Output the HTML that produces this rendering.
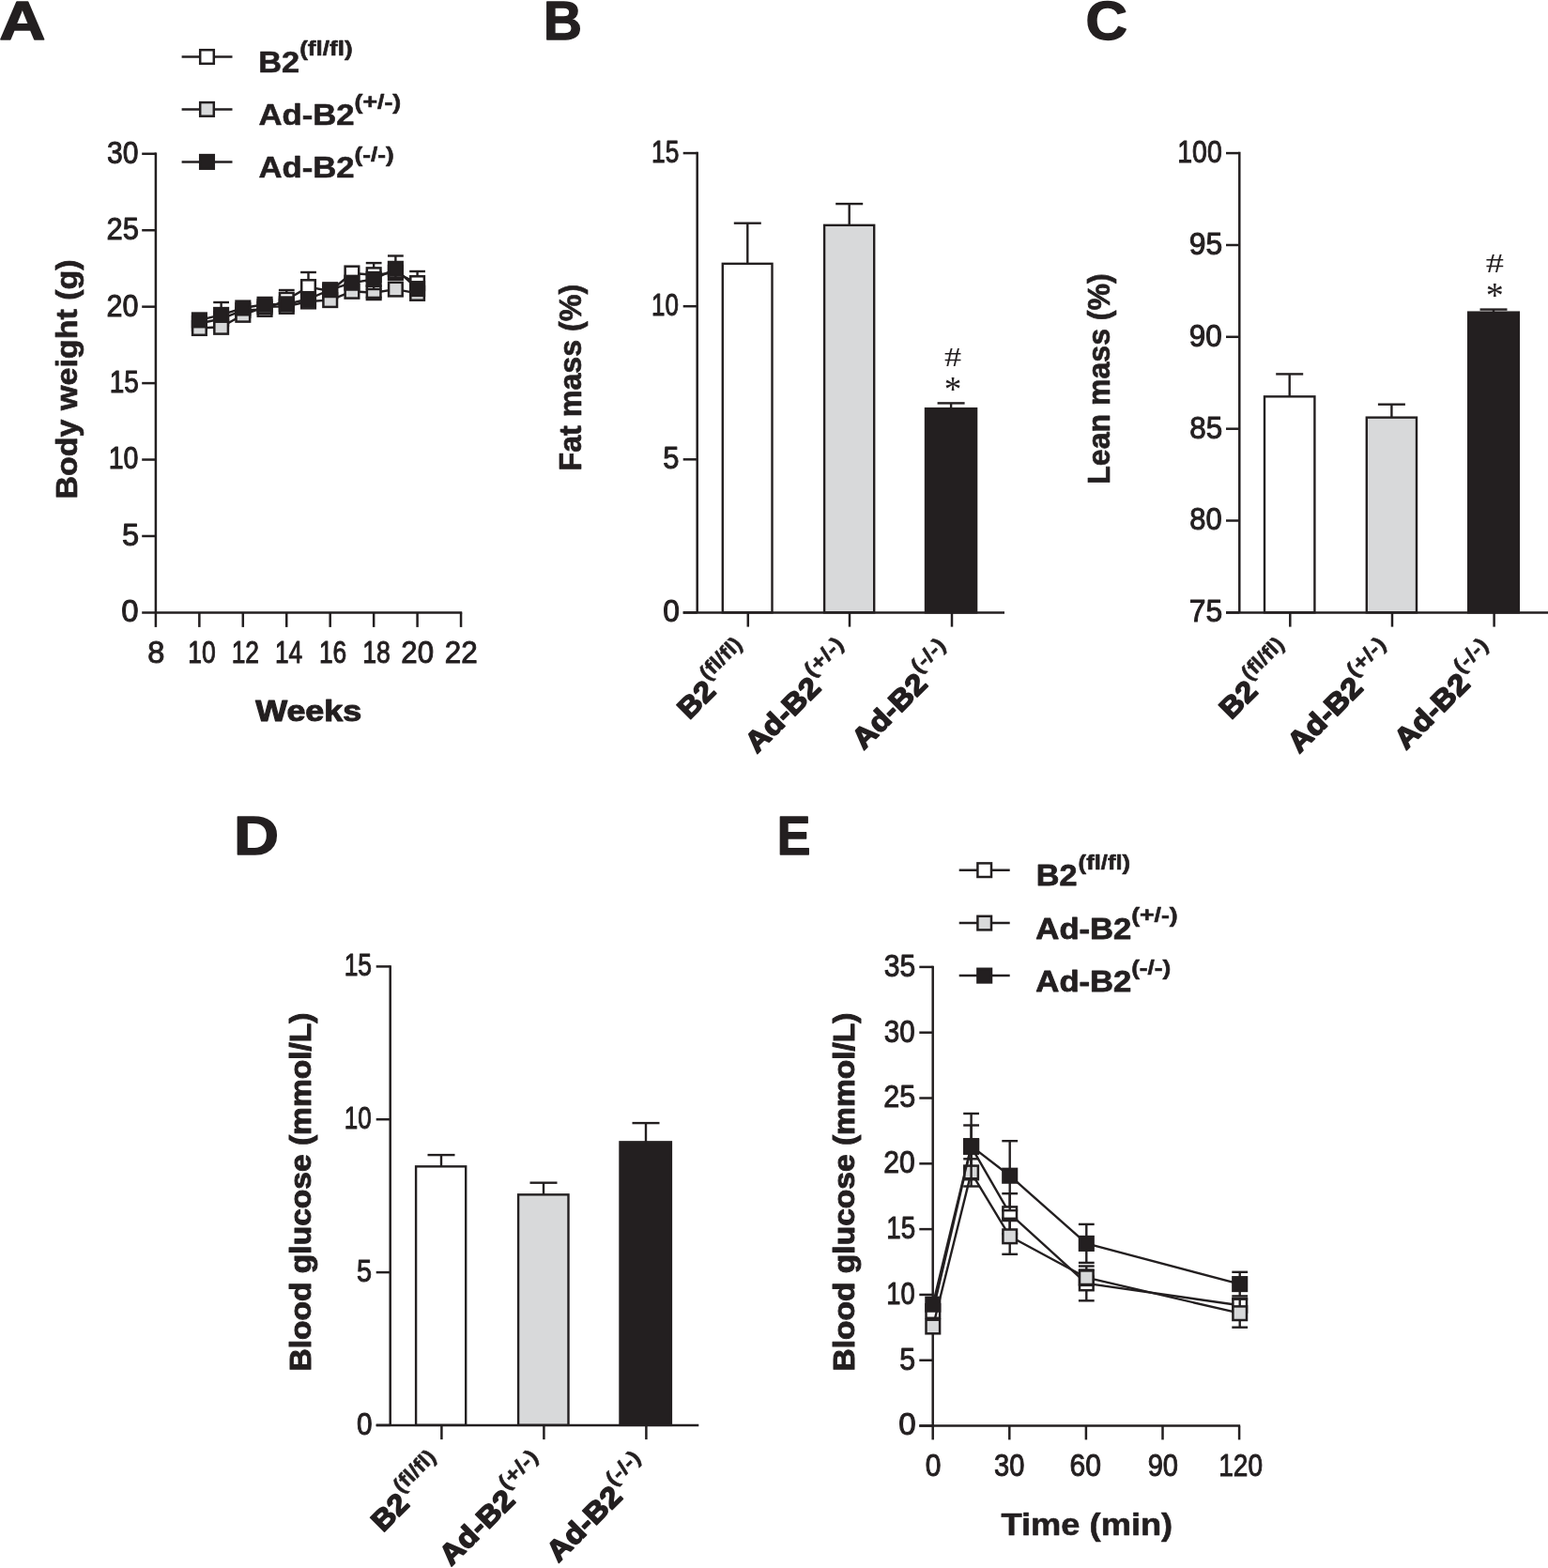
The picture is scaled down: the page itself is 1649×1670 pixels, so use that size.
<!DOCTYPE html>
<html lang="en">
<head>
<meta charset="utf-8">
<title>Figure: body composition and glucose tolerance</title>
<style>
html,body{margin:0;padding:0;background:#ffffff;}
body{width:1649px;height:1670px;overflow:hidden;}
svg{display:block;}
svg text{fill:#231f20;}
</style>
</head>
<body>
<svg width="1649" height="1670" viewBox="0 0 1649 1670" role="img" aria-label="Five-panel figure: body weight, fat mass, lean mass, blood glucose and glucose tolerance">
<rect x="0" y="0" width="1649" height="1670" fill="#ffffff"/>
<text x="-0.86" y="42.1" font-family='"Liberation Sans", sans-serif' font-size="57" font-weight="bold" textLength="49.16" lengthAdjust="spacingAndGlyphs" stroke="#231f20" stroke-width="1.4" stroke-linejoin="round">A</text>
<text x="579.06" y="42" font-family='"Liberation Sans", sans-serif' font-size="57" font-weight="bold" textLength="40.9" lengthAdjust="spacingAndGlyphs" stroke="#231f20" stroke-width="1.4" stroke-linejoin="round">B</text>
<text x="1156.58" y="42" font-family='"Liberation Sans", sans-serif' font-size="57" font-weight="bold" textLength="44.39" lengthAdjust="spacingAndGlyphs" stroke="#231f20" stroke-width="1.4" stroke-linejoin="round">C</text>
<text x="249.04" y="910.3" font-family='"Liberation Sans", sans-serif' font-size="57" font-weight="bold" textLength="48.07" lengthAdjust="spacingAndGlyphs" stroke="#231f20" stroke-width="1.4" stroke-linejoin="round">D</text>
<text x="827.86" y="910.3" font-family='"Liberation Sans", sans-serif' font-size="57" font-weight="bold" textLength="35.65" lengthAdjust="spacingAndGlyphs" stroke="#231f20" stroke-width="1.4" stroke-linejoin="round">E</text>
<line x1="165.9" y1="162.55" x2="165.9" y2="652.4" stroke="#231f20" stroke-width="2.5" stroke-linecap="butt"/>
<line x1="151.2" y1="652.4" x2="492.2" y2="652.4" stroke="#231f20" stroke-width="2.5" stroke-linecap="butt"/>
<line x1="151.2" y1="163.8" x2="165.9" y2="163.8" stroke="#231f20" stroke-width="2.5" stroke-linecap="butt"/>
<text x="114.06" y="173.7" font-family='"Liberation Sans", sans-serif' font-size="33" font-weight="normal" textLength="33.49" lengthAdjust="spacingAndGlyphs" stroke="#231f20" stroke-width="1" stroke-linejoin="round">30</text>
<line x1="151.2" y1="245.23" x2="165.9" y2="245.23" stroke="#231f20" stroke-width="2.5" stroke-linecap="butt"/>
<text x="113.55" y="255.13" font-family='"Liberation Sans", sans-serif' font-size="33" font-weight="normal" textLength="34.51" lengthAdjust="spacingAndGlyphs" stroke="#231f20" stroke-width="1" stroke-linejoin="round">25</text>
<line x1="151.2" y1="326.67" x2="165.9" y2="326.67" stroke="#231f20" stroke-width="2.5" stroke-linecap="butt"/>
<text x="113.57" y="336.57" font-family='"Liberation Sans", sans-serif' font-size="33" font-weight="normal" textLength="33.99" lengthAdjust="spacingAndGlyphs" stroke="#231f20" stroke-width="1" stroke-linejoin="round">20</text>
<line x1="151.2" y1="408.1" x2="165.9" y2="408.1" stroke="#231f20" stroke-width="2.5" stroke-linecap="butt"/>
<text x="116.75" y="418" font-family='"Liberation Sans", sans-serif' font-size="33" font-weight="normal" textLength="31.19" lengthAdjust="spacingAndGlyphs" stroke="#231f20" stroke-width="1" stroke-linejoin="round">15</text>
<line x1="151.2" y1="489.53" x2="165.9" y2="489.53" stroke="#231f20" stroke-width="2.5" stroke-linecap="butt"/>
<text x="115.71" y="499.43" font-family='"Liberation Sans", sans-serif' font-size="33" font-weight="normal" textLength="31.8" lengthAdjust="spacingAndGlyphs" stroke="#231f20" stroke-width="1" stroke-linejoin="round">10</text>
<line x1="151.2" y1="570.97" x2="165.9" y2="570.97" stroke="#231f20" stroke-width="2.5" stroke-linecap="butt"/>
<text x="129.98" y="580.87" font-family='"Liberation Sans", sans-serif' font-size="33" font-weight="normal" textLength="18.14" lengthAdjust="spacingAndGlyphs" stroke="#231f20" stroke-width="1" stroke-linejoin="round">5</text>
<text x="129.27" y="662.3" font-family='"Liberation Sans", sans-serif' font-size="33" font-weight="normal" textLength="18.35" lengthAdjust="spacingAndGlyphs" stroke="#231f20" stroke-width="1" stroke-linejoin="round">0</text>
<line x1="165.9" y1="652.4" x2="165.9" y2="667.9" stroke="#231f20" stroke-width="2.5" stroke-linecap="butt"/>
<text x="157.18" y="706.2" font-family='"Liberation Sans", sans-serif' font-size="33" font-weight="normal" textLength="18.14" lengthAdjust="spacingAndGlyphs" stroke="#231f20" stroke-width="1" stroke-linejoin="round">8</text>
<line x1="212.35" y1="652.4" x2="212.35" y2="667.9" stroke="#231f20" stroke-width="2.5" stroke-linecap="butt"/>
<text x="200.24" y="706.2" font-family='"Liberation Sans", sans-serif' font-size="33" font-weight="normal" textLength="29.52" lengthAdjust="spacingAndGlyphs" stroke="#231f20" stroke-width="1" stroke-linejoin="round">10</text>
<line x1="258.8" y1="652.4" x2="258.8" y2="667.9" stroke="#231f20" stroke-width="2.5" stroke-linecap="butt"/>
<text x="246.65" y="706.2" font-family='"Liberation Sans", sans-serif' font-size="33" font-weight="normal" textLength="29.43" lengthAdjust="spacingAndGlyphs" stroke="#231f20" stroke-width="1" stroke-linejoin="round">12</text>
<line x1="305.25" y1="652.4" x2="305.25" y2="667.9" stroke="#231f20" stroke-width="2.5" stroke-linecap="butt"/>
<text x="292.95" y="706.2" font-family='"Liberation Sans", sans-serif' font-size="33" font-weight="normal" textLength="29.3" lengthAdjust="spacingAndGlyphs" stroke="#231f20" stroke-width="1" stroke-linejoin="round">14</text>
<line x1="351.7" y1="652.4" x2="351.7" y2="667.9" stroke="#231f20" stroke-width="2.5" stroke-linecap="butt"/>
<text x="339.95" y="706.2" font-family='"Liberation Sans", sans-serif' font-size="33" font-weight="normal" textLength="29.32" lengthAdjust="spacingAndGlyphs" stroke="#231f20" stroke-width="1" stroke-linejoin="round">16</text>
<line x1="398.15" y1="652.4" x2="398.15" y2="667.9" stroke="#231f20" stroke-width="2.5" stroke-linecap="butt"/>
<text x="386.23" y="706.2" font-family='"Liberation Sans", sans-serif' font-size="33" font-weight="normal" textLength="29.65" lengthAdjust="spacingAndGlyphs" stroke="#231f20" stroke-width="1" stroke-linejoin="round">18</text>
<line x1="444.6" y1="652.4" x2="444.6" y2="667.9" stroke="#231f20" stroke-width="2.5" stroke-linecap="butt"/>
<text x="427.34" y="706.2" font-family='"Liberation Sans", sans-serif' font-size="33" font-weight="normal" textLength="34.74" lengthAdjust="spacingAndGlyphs" stroke="#231f20" stroke-width="1" stroke-linejoin="round">20</text>
<line x1="491.05" y1="652.4" x2="491.05" y2="667.9" stroke="#231f20" stroke-width="2.5" stroke-linecap="butt"/>
<text x="473.73" y="706.2" font-family='"Liberation Sans", sans-serif' font-size="33" font-weight="normal" textLength="34.95" lengthAdjust="spacingAndGlyphs" stroke="#231f20" stroke-width="1" stroke-linejoin="round">22</text>
<text x="272.15" y="768.35" font-family='"Liberation Sans", sans-serif' font-size="32" font-weight="bold" textLength="113.16" lengthAdjust="spacingAndGlyphs" stroke="#231f20" stroke-width="1.1" stroke-linejoin="round">Weeks</text>
<text x="-2.28" y="-0.35" font-family='"Liberation Sans", sans-serif' font-size="32" font-weight="bold" textLength="255.26" lengthAdjust="spacingAndGlyphs" stroke="#231f20" stroke-width="0.7" stroke-linejoin="round" transform="translate(82.3,529.3) rotate(-90)">Body weight (g)</text>
<line x1="193.6" y1="60.5" x2="247.5" y2="60.5" stroke="#231f20" stroke-width="2.5" stroke-linecap="butt"/>
<rect x="213.2" y="53.2" width="14.6" height="14.6" fill="#ffffff" stroke="#231f20" stroke-width="2.5"/>
<line x1="193.6" y1="116.4" x2="247.5" y2="116.4" stroke="#231f20" stroke-width="2.5" stroke-linecap="butt"/>
<rect x="213.2" y="109.1" width="14.6" height="14.6" fill="#d8d9da" stroke="#231f20" stroke-width="2.5"/>
<line x1="193.6" y1="172.4" x2="247.5" y2="172.4" stroke="#231f20" stroke-width="2.5" stroke-linecap="butt"/>
<rect x="213.2" y="165.1" width="14.6" height="14.6" fill="#231f20" stroke="#231f20" stroke-width="2.5"/>
<text x="275.15" y="76.9" font-family='"Liberation Sans", sans-serif' font-size="32" font-weight="bold" textLength="43.9" lengthAdjust="spacingAndGlyphs" stroke="#231f20" stroke-width="0.6" stroke-linejoin="round">B2</text>
<text x="319.18" y="59.1" font-family='"Liberation Sans", sans-serif' font-size="21.5" font-weight="bold" textLength="56.46" lengthAdjust="spacingAndGlyphs" stroke="#231f20" stroke-width="0.6" stroke-linejoin="round">(fl/fl)</text>
<text x="275.46" y="133.4" font-family='"Liberation Sans", sans-serif' font-size="32" font-weight="bold" textLength="102.21" lengthAdjust="spacingAndGlyphs" stroke="#231f20" stroke-width="0.6" stroke-linejoin="round">Ad-B2</text>
<text x="377.55" y="115.6" font-family='"Liberation Sans", sans-serif' font-size="21.5" font-weight="bold" textLength="49.61" lengthAdjust="spacingAndGlyphs" stroke="#231f20" stroke-width="0.6" stroke-linejoin="round">(+/-)</text>
<text x="275.46" y="189.4" font-family='"Liberation Sans", sans-serif' font-size="32" font-weight="bold" textLength="102.21" lengthAdjust="spacingAndGlyphs" stroke="#231f20" stroke-width="0.6" stroke-linejoin="round">Ad-B2</text>
<text x="377.57" y="171.6" font-family='"Liberation Sans", sans-serif' font-size="21.5" font-weight="bold" textLength="42.17" lengthAdjust="spacingAndGlyphs" stroke="#231f20" stroke-width="0.6" stroke-linejoin="round">(-/-)</text>
<line x1="305.28" y1="319.3" x2="305.28" y2="309" stroke="#231f20" stroke-width="2.4" stroke-linecap="butt"/>
<line x1="296.88" y1="309" x2="313.68" y2="309" stroke="#231f20" stroke-width="2.4" stroke-linecap="butt"/>
<line x1="328.5" y1="305.6" x2="328.5" y2="290" stroke="#231f20" stroke-width="2.4" stroke-linecap="butt"/>
<line x1="320.1" y1="290" x2="336.9" y2="290" stroke="#231f20" stroke-width="2.4" stroke-linecap="butt"/>
<line x1="398.16" y1="292.7" x2="398.16" y2="280.1" stroke="#231f20" stroke-width="2.4" stroke-linecap="butt"/>
<line x1="389.76" y1="280.1" x2="406.56" y2="280.1" stroke="#231f20" stroke-width="2.4" stroke-linecap="butt"/>
<line x1="444.6" y1="301.6" x2="444.6" y2="289" stroke="#231f20" stroke-width="2.4" stroke-linecap="butt"/>
<line x1="436.2" y1="289" x2="453" y2="289" stroke="#231f20" stroke-width="2.4" stroke-linecap="butt"/>
<polyline points="212.4,344.5 235.62,339.5 258.84,330.5 282.06,329.4 305.28,319.3 328.5,305.6 351.72,310 374.94,291 398.16,292.7 421.38,290.4 444.6,301.6" fill="none" stroke="#231f20" stroke-width="2.4" stroke-linejoin="round"/>
<rect x="205.1" y="337.2" width="14.6" height="14.6" fill="#ffffff" stroke="#231f20" stroke-width="2.5"/>
<rect x="228.32" y="332.2" width="14.6" height="14.6" fill="#ffffff" stroke="#231f20" stroke-width="2.5"/>
<rect x="251.54" y="323.2" width="14.6" height="14.6" fill="#ffffff" stroke="#231f20" stroke-width="2.5"/>
<rect x="274.76" y="322.1" width="14.6" height="14.6" fill="#ffffff" stroke="#231f20" stroke-width="2.5"/>
<rect x="297.98" y="312" width="14.6" height="14.6" fill="#ffffff" stroke="#231f20" stroke-width="2.5"/>
<rect x="321.2" y="298.3" width="14.6" height="14.6" fill="#ffffff" stroke="#231f20" stroke-width="2.5"/>
<rect x="344.42" y="302.7" width="14.6" height="14.6" fill="#ffffff" stroke="#231f20" stroke-width="2.5"/>
<rect x="367.64" y="283.7" width="14.6" height="14.6" fill="#ffffff" stroke="#231f20" stroke-width="2.5"/>
<rect x="390.86" y="285.4" width="14.6" height="14.6" fill="#ffffff" stroke="#231f20" stroke-width="2.5"/>
<rect x="414.08" y="283.1" width="14.6" height="14.6" fill="#ffffff" stroke="#231f20" stroke-width="2.5"/>
<rect x="437.3" y="294.3" width="14.6" height="14.6" fill="#ffffff" stroke="#231f20" stroke-width="2.5"/>
<polyline points="212.4,349.5 235.62,348.3 258.84,335.3 282.06,326.8 305.28,326.4 328.5,321 351.72,319.6 374.94,310.3 398.16,311.7 421.38,308.1 444.6,312.4" fill="none" stroke="#231f20" stroke-width="2.4" stroke-linejoin="round"/>
<rect x="205.1" y="342.2" width="14.6" height="14.6" fill="#d8d9da" stroke="#231f20" stroke-width="2.5"/>
<rect x="228.32" y="341" width="14.6" height="14.6" fill="#d8d9da" stroke="#231f20" stroke-width="2.5"/>
<rect x="251.54" y="328" width="14.6" height="14.6" fill="#d8d9da" stroke="#231f20" stroke-width="2.5"/>
<rect x="274.76" y="319.5" width="14.6" height="14.6" fill="#d8d9da" stroke="#231f20" stroke-width="2.5"/>
<rect x="297.98" y="319.1" width="14.6" height="14.6" fill="#d8d9da" stroke="#231f20" stroke-width="2.5"/>
<rect x="321.2" y="313.7" width="14.6" height="14.6" fill="#d8d9da" stroke="#231f20" stroke-width="2.5"/>
<rect x="344.42" y="312.3" width="14.6" height="14.6" fill="#d8d9da" stroke="#231f20" stroke-width="2.5"/>
<rect x="367.64" y="303" width="14.6" height="14.6" fill="#d8d9da" stroke="#231f20" stroke-width="2.5"/>
<rect x="390.86" y="304.4" width="14.6" height="14.6" fill="#d8d9da" stroke="#231f20" stroke-width="2.5"/>
<rect x="414.08" y="300.8" width="14.6" height="14.6" fill="#d8d9da" stroke="#231f20" stroke-width="2.5"/>
<rect x="437.3" y="305.1" width="14.6" height="14.6" fill="#d8d9da" stroke="#231f20" stroke-width="2.5"/>
<line x1="389.76" y1="316.9" x2="406.56" y2="316.9" stroke="#231f20" stroke-width="2.4" stroke-linecap="butt"/>
<line x1="235.62" y1="335.4" x2="235.62" y2="322" stroke="#231f20" stroke-width="2.4" stroke-linecap="butt"/>
<line x1="227.22" y1="322" x2="244.02" y2="322" stroke="#231f20" stroke-width="2.4" stroke-linecap="butt"/>
<line x1="421.38" y1="286.3" x2="421.38" y2="272.5" stroke="#231f20" stroke-width="2.4" stroke-linecap="butt"/>
<line x1="412.98" y1="272.5" x2="429.78" y2="272.5" stroke="#231f20" stroke-width="2.4" stroke-linecap="butt"/>
<line x1="421.38" y1="286.3" x2="421.38" y2="296" stroke="#231f20" stroke-width="2.4" stroke-linecap="butt"/>
<line x1="412.98" y1="296" x2="429.78" y2="296" stroke="#231f20" stroke-width="2.4" stroke-linecap="butt"/>
<line x1="398.16" y1="297.4" x2="398.16" y2="308" stroke="#231f20" stroke-width="2.4" stroke-linecap="butt"/>
<line x1="389.76" y1="308" x2="406.56" y2="308" stroke="#231f20" stroke-width="2.4" stroke-linecap="butt"/>
<polyline points="212.4,340.9 235.62,335.4 258.84,328 282.06,324.3 305.28,323.9 328.5,318.5 351.72,308.7 374.94,301.2 398.16,297.4 421.38,286.3 444.6,307.6" fill="none" stroke="#231f20" stroke-width="2.4" stroke-linejoin="round"/>
<rect x="205.1" y="333.6" width="14.6" height="14.6" fill="#231f20" stroke="#231f20" stroke-width="2.5"/>
<rect x="228.32" y="328.1" width="14.6" height="14.6" fill="#231f20" stroke="#231f20" stroke-width="2.5"/>
<rect x="251.54" y="320.7" width="14.6" height="14.6" fill="#231f20" stroke="#231f20" stroke-width="2.5"/>
<rect x="274.76" y="317" width="14.6" height="14.6" fill="#231f20" stroke="#231f20" stroke-width="2.5"/>
<rect x="297.98" y="316.6" width="14.6" height="14.6" fill="#231f20" stroke="#231f20" stroke-width="2.5"/>
<rect x="321.2" y="311.2" width="14.6" height="14.6" fill="#231f20" stroke="#231f20" stroke-width="2.5"/>
<rect x="344.42" y="301.4" width="14.6" height="14.6" fill="#231f20" stroke="#231f20" stroke-width="2.5"/>
<rect x="367.64" y="293.9" width="14.6" height="14.6" fill="#231f20" stroke="#231f20" stroke-width="2.5"/>
<rect x="390.86" y="290.1" width="14.6" height="14.6" fill="#231f20" stroke="#231f20" stroke-width="2.5"/>
<rect x="414.08" y="279" width="14.6" height="14.6" fill="#231f20" stroke="#231f20" stroke-width="2.5"/>
<rect x="437.3" y="300.3" width="14.6" height="14.6" fill="#231f20" stroke="#231f20" stroke-width="2.5"/>
<line x1="742.7" y1="161.85" x2="742.7" y2="652.4" stroke="#231f20" stroke-width="2.5" stroke-linecap="butt"/>
<line x1="796.3" y1="280.9" x2="796.3" y2="237.7" stroke="#231f20" stroke-width="2.4" stroke-linecap="butt"/>
<line x1="781.8" y1="237.7" x2="810.8" y2="237.7" stroke="#231f20" stroke-width="2.4" stroke-linecap="butt"/>
<rect x="769.8" y="280.85" width="52.7" height="371.5" fill="#ffffff" stroke="#231f20" stroke-width="2.4"/>
<line x1="796.8" y1="652.4" x2="796.8" y2="667.6" stroke="#231f20" stroke-width="2.5" stroke-linecap="butt"/>
<line x1="904.7" y1="239.9" x2="904.7" y2="217.1" stroke="#231f20" stroke-width="2.4" stroke-linecap="butt"/>
<line x1="890.2" y1="217.1" x2="919.2" y2="217.1" stroke="#231f20" stroke-width="2.4" stroke-linecap="butt"/>
<rect x="878.1" y="239.85" width="53.1" height="412.5" fill="#d8d9da" stroke="#231f20" stroke-width="2.4"/>
<line x1="905" y1="652.4" x2="905" y2="667.6" stroke="#231f20" stroke-width="2.5" stroke-linecap="butt"/>
<line x1="1013.1" y1="435.2" x2="1013.1" y2="429.4" stroke="#231f20" stroke-width="2.4" stroke-linecap="butt"/>
<line x1="998.6" y1="429.4" x2="1027.6" y2="429.4" stroke="#231f20" stroke-width="2.4" stroke-linecap="butt"/>
<rect x="986" y="435.15" width="54.1" height="217.2" fill="#231f20" stroke="#231f20" stroke-width="2.4"/>
<line x1="1014" y1="652.4" x2="1014" y2="667.6" stroke="#231f20" stroke-width="2.5" stroke-linecap="butt"/>
<line x1="727.7" y1="652.4" x2="1070" y2="652.4" stroke="#231f20" stroke-width="2.5" stroke-linecap="butt"/>
<line x1="727.7" y1="163.1" x2="742.7" y2="163.1" stroke="#231f20" stroke-width="2.5" stroke-linecap="butt"/>
<text x="694.05" y="173" font-family='"Liberation Sans", sans-serif' font-size="33" font-weight="normal" textLength="29.32" lengthAdjust="spacingAndGlyphs" stroke="#231f20" stroke-width="1" stroke-linejoin="round">15</text>
<line x1="727.7" y1="326.2" x2="742.7" y2="326.2" stroke="#231f20" stroke-width="2.5" stroke-linecap="butt"/>
<text x="694.08" y="336.1" font-family='"Liberation Sans", sans-serif' font-size="33" font-weight="normal" textLength="28.87" lengthAdjust="spacingAndGlyphs" stroke="#231f20" stroke-width="1" stroke-linejoin="round">10</text>
<line x1="727.7" y1="489.3" x2="742.7" y2="489.3" stroke="#231f20" stroke-width="2.5" stroke-linecap="butt"/>
<text x="706.33" y="499.2" font-family='"Liberation Sans", sans-serif' font-size="33" font-weight="normal" textLength="17.22" lengthAdjust="spacingAndGlyphs" stroke="#231f20" stroke-width="1" stroke-linejoin="round">5</text>
<line x1="727.7" y1="652.4" x2="742.7" y2="652.4" stroke="#231f20" stroke-width="2.5" stroke-linecap="butt"/>
<text x="706.31" y="662.3" font-family='"Liberation Sans", sans-serif' font-size="33" font-weight="normal" textLength="17.69" lengthAdjust="spacingAndGlyphs" stroke="#231f20" stroke-width="1" stroke-linejoin="round">0</text>
<text x="-2.16" y="-0.35" font-family='"Liberation Sans", sans-serif' font-size="33" font-weight="bold" textLength="198.78" lengthAdjust="spacingAndGlyphs" stroke="#231f20" stroke-width="0.7" stroke-linejoin="round" transform="translate(619.65,499.4) rotate(-90)">Fat mass (%)</text>
<text x="-1.74" y="-0.8" font-family='"Liberation Sans", sans-serif' font-size="30.8" font-weight="bold" textLength="41.75" lengthAdjust="spacingAndGlyphs" stroke="#231f20" stroke-width="1.6" stroke-linejoin="round" transform="translate(736,766.6) rotate(-45)">B2</text>
<text x="41.58" y="-16.55" font-family='"Liberation Sans", sans-serif' font-size="22.3" font-weight="bold" textLength="54.07" lengthAdjust="spacingAndGlyphs" stroke="#231f20" stroke-width="0.5" stroke-linejoin="round" transform="translate(736,766.6) rotate(-45)">(fl/fl)</text>
<text x="-0.22" y="-0.8" font-family='"Liberation Sans", sans-serif' font-size="30.8" font-weight="bold" textLength="98.25" lengthAdjust="spacingAndGlyphs" stroke="#231f20" stroke-width="1.6" stroke-linejoin="round" transform="translate(807,803.7) rotate(-45)">Ad-B2</text>
<text x="99.01" y="-16.55" font-family='"Liberation Sans", sans-serif' font-size="22.3" font-weight="bold" textLength="49.19" lengthAdjust="spacingAndGlyphs" stroke="#231f20" stroke-width="0.5" stroke-linejoin="round" transform="translate(807,803.7) rotate(-45)">(+/-)</text>
<text x="-0.22" y="-0.8" font-family='"Liberation Sans", sans-serif' font-size="30.8" font-weight="bold" textLength="98.25" lengthAdjust="spacingAndGlyphs" stroke="#231f20" stroke-width="1.6" stroke-linejoin="round" transform="translate(920.6,799.8) rotate(-45)">Ad-B2</text>
<text x="99.02" y="-16.55" font-family='"Liberation Sans", sans-serif' font-size="22.3" font-weight="bold" textLength="42.17" lengthAdjust="spacingAndGlyphs" stroke="#231f20" stroke-width="0.5" stroke-linejoin="round" transform="translate(920.6,799.8) rotate(-45)">(-/-)</text>
<line x1="1320.3" y1="161.85" x2="1320.3" y2="652.4" stroke="#231f20" stroke-width="2.5" stroke-linecap="butt"/>
<line x1="1373.7" y1="422.4" x2="1373.7" y2="398.4" stroke="#231f20" stroke-width="2.4" stroke-linecap="butt"/>
<line x1="1359.2" y1="398.4" x2="1388.2" y2="398.4" stroke="#231f20" stroke-width="2.4" stroke-linecap="butt"/>
<rect x="1347" y="422.35" width="53.4" height="230" fill="#ffffff" stroke="#231f20" stroke-width="2.4"/>
<line x1="1374.3" y1="652.4" x2="1374.3" y2="667.6" stroke="#231f20" stroke-width="2.5" stroke-linecap="butt"/>
<line x1="1482.4" y1="444.7" x2="1482.4" y2="430.7" stroke="#231f20" stroke-width="2.4" stroke-linecap="butt"/>
<line x1="1467.9" y1="430.7" x2="1496.9" y2="430.7" stroke="#231f20" stroke-width="2.4" stroke-linecap="butt"/>
<rect x="1455.8" y="444.65" width="53.2" height="207.7" fill="#d8d9da" stroke="#231f20" stroke-width="2.4"/>
<line x1="1483" y1="652.4" x2="1483" y2="667.6" stroke="#231f20" stroke-width="2.5" stroke-linecap="butt"/>
<line x1="1591" y1="332.7" x2="1591" y2="329.6" stroke="#231f20" stroke-width="2.4" stroke-linecap="butt"/>
<line x1="1576.5" y1="329.6" x2="1605.5" y2="329.6" stroke="#231f20" stroke-width="2.4" stroke-linecap="butt"/>
<rect x="1564.2" y="332.65" width="53.6" height="319.7" fill="#231f20" stroke="#231f20" stroke-width="2.4"/>
<line x1="1591.6" y1="652.4" x2="1591.6" y2="667.6" stroke="#231f20" stroke-width="2.5" stroke-linecap="butt"/>
<line x1="1306" y1="652.4" x2="1649" y2="652.4" stroke="#231f20" stroke-width="2.5" stroke-linecap="butt"/>
<line x1="1306" y1="163.1" x2="1320.3" y2="163.1" stroke="#231f20" stroke-width="2.5" stroke-linecap="butt"/>
<text x="1254.22" y="173" font-family='"Liberation Sans", sans-serif' font-size="33" font-weight="normal" textLength="47.49" lengthAdjust="spacingAndGlyphs" stroke="#231f20" stroke-width="1" stroke-linejoin="round">100</text>
<line x1="1306" y1="261" x2="1320.3" y2="261" stroke="#231f20" stroke-width="2.5" stroke-linecap="butt"/>
<text x="1266.8" y="270.9" font-family='"Liberation Sans", sans-serif' font-size="33" font-weight="normal" textLength="35.49" lengthAdjust="spacingAndGlyphs" stroke="#231f20" stroke-width="1" stroke-linejoin="round">95</text>
<line x1="1306" y1="358.8" x2="1320.3" y2="358.8" stroke="#231f20" stroke-width="2.5" stroke-linecap="butt"/>
<text x="1266.83" y="368.7" font-family='"Liberation Sans", sans-serif' font-size="33" font-weight="normal" textLength="34.96" lengthAdjust="spacingAndGlyphs" stroke="#231f20" stroke-width="1" stroke-linejoin="round">90</text>
<line x1="1306" y1="456.7" x2="1320.3" y2="456.7" stroke="#231f20" stroke-width="2.5" stroke-linecap="butt"/>
<text x="1267.32" y="466.6" font-family='"Liberation Sans", sans-serif' font-size="33" font-weight="normal" textLength="34.96" lengthAdjust="spacingAndGlyphs" stroke="#231f20" stroke-width="1" stroke-linejoin="round">85</text>
<line x1="1306" y1="554.5" x2="1320.3" y2="554.5" stroke="#231f20" stroke-width="2.5" stroke-linecap="butt"/>
<text x="1267.33" y="564.4" font-family='"Liberation Sans", sans-serif' font-size="33" font-weight="normal" textLength="34.44" lengthAdjust="spacingAndGlyphs" stroke="#231f20" stroke-width="1" stroke-linejoin="round">80</text>
<line x1="1306" y1="652.4" x2="1320.3" y2="652.4" stroke="#231f20" stroke-width="2.5" stroke-linecap="butt"/>
<text x="1266.8" y="662.3" font-family='"Liberation Sans", sans-serif' font-size="33" font-weight="normal" textLength="35.49" lengthAdjust="spacingAndGlyphs" stroke="#231f20" stroke-width="1" stroke-linejoin="round">75</text>
<text x="-2.15" y="-0.35" font-family='"Liberation Sans", sans-serif' font-size="33" font-weight="bold" textLength="224.46" lengthAdjust="spacingAndGlyphs" stroke="#231f20" stroke-width="0.7" stroke-linejoin="round" transform="translate(1182,513.6) rotate(-90)">Lean mass (%)</text>
<text x="-1.74" y="-0.8" font-family='"Liberation Sans", sans-serif' font-size="30.8" font-weight="bold" textLength="41.75" lengthAdjust="spacingAndGlyphs" stroke="#231f20" stroke-width="1.6" stroke-linejoin="round" transform="translate(1313.4,766.6) rotate(-45)">B2</text>
<text x="41.58" y="-16.55" font-family='"Liberation Sans", sans-serif' font-size="22.3" font-weight="bold" textLength="54.07" lengthAdjust="spacingAndGlyphs" stroke="#231f20" stroke-width="0.5" stroke-linejoin="round" transform="translate(1313.4,766.6) rotate(-45)">(fl/fl)</text>
<text x="-0.22" y="-0.8" font-family='"Liberation Sans", sans-serif' font-size="30.8" font-weight="bold" textLength="98.25" lengthAdjust="spacingAndGlyphs" stroke="#231f20" stroke-width="1.6" stroke-linejoin="round" transform="translate(1384.7,803.7) rotate(-45)">Ad-B2</text>
<text x="99.01" y="-16.55" font-family='"Liberation Sans", sans-serif' font-size="22.3" font-weight="bold" textLength="49.19" lengthAdjust="spacingAndGlyphs" stroke="#231f20" stroke-width="0.5" stroke-linejoin="round" transform="translate(1384.7,803.7) rotate(-45)">(+/-)</text>
<text x="-0.22" y="-0.8" font-family='"Liberation Sans", sans-serif' font-size="30.8" font-weight="bold" textLength="98.25" lengthAdjust="spacingAndGlyphs" stroke="#231f20" stroke-width="1.6" stroke-linejoin="round" transform="translate(1498.5,799.8) rotate(-45)">Ad-B2</text>
<text x="99.02" y="-16.55" font-family='"Liberation Sans", sans-serif' font-size="22.3" font-weight="bold" textLength="42.17" lengthAdjust="spacingAndGlyphs" stroke="#231f20" stroke-width="0.5" stroke-linejoin="round" transform="translate(1498.5,799.8) rotate(-45)">(-/-)</text>
<line x1="415.7" y1="1028.15" x2="415.7" y2="1517.9" stroke="#231f20" stroke-width="2.5" stroke-linecap="butt"/>
<line x1="470" y1="1242.4" x2="470" y2="1230.1" stroke="#231f20" stroke-width="2.4" stroke-linecap="butt"/>
<line x1="455.5" y1="1230.1" x2="484.5" y2="1230.1" stroke="#231f20" stroke-width="2.4" stroke-linecap="butt"/>
<rect x="443.1" y="1242.35" width="53.1" height="275.5" fill="#ffffff" stroke="#231f20" stroke-width="2.4"/>
<line x1="470.4" y1="1517.9" x2="470.4" y2="1533.1" stroke="#231f20" stroke-width="2.5" stroke-linecap="butt"/>
<line x1="579" y1="1272.4" x2="579" y2="1259.7" stroke="#231f20" stroke-width="2.4" stroke-linecap="butt"/>
<line x1="564.5" y1="1259.7" x2="593.5" y2="1259.7" stroke="#231f20" stroke-width="2.4" stroke-linecap="butt"/>
<rect x="552.1" y="1272.35" width="53.4" height="245.5" fill="#d8d9da" stroke="#231f20" stroke-width="2.4"/>
<line x1="579.4" y1="1517.9" x2="579.4" y2="1533.1" stroke="#231f20" stroke-width="2.5" stroke-linecap="butt"/>
<line x1="688" y1="1216.4" x2="688" y2="1196.1" stroke="#231f20" stroke-width="2.4" stroke-linecap="butt"/>
<line x1="673.5" y1="1196.1" x2="702.5" y2="1196.1" stroke="#231f20" stroke-width="2.4" stroke-linecap="butt"/>
<rect x="660.5" y="1216.35" width="54.4" height="301.5" fill="#231f20" stroke="#231f20" stroke-width="2.4"/>
<line x1="688.4" y1="1517.9" x2="688.4" y2="1533.1" stroke="#231f20" stroke-width="2.5" stroke-linecap="butt"/>
<line x1="400.7" y1="1517.9" x2="744.3" y2="1517.9" stroke="#231f20" stroke-width="2.5" stroke-linecap="butt"/>
<line x1="400.7" y1="1029.4" x2="415.7" y2="1029.4" stroke="#231f20" stroke-width="2.5" stroke-linecap="butt"/>
<text x="366.65" y="1039.3" font-family='"Liberation Sans", sans-serif' font-size="33" font-weight="normal" textLength="29.43" lengthAdjust="spacingAndGlyphs" stroke="#231f20" stroke-width="1" stroke-linejoin="round">15</text>
<line x1="400.7" y1="1192.2" x2="415.7" y2="1192.2" stroke="#231f20" stroke-width="2.5" stroke-linecap="butt"/>
<text x="366.67" y="1202.1" font-family='"Liberation Sans", sans-serif' font-size="33" font-weight="normal" textLength="28.98" lengthAdjust="spacingAndGlyphs" stroke="#231f20" stroke-width="1" stroke-linejoin="round">10</text>
<line x1="400.7" y1="1355.1" x2="415.7" y2="1355.1" stroke="#231f20" stroke-width="2.5" stroke-linecap="butt"/>
<text x="380.1" y="1365" font-family='"Liberation Sans", sans-serif' font-size="33" font-weight="normal" textLength="16.07" lengthAdjust="spacingAndGlyphs" stroke="#231f20" stroke-width="1" stroke-linejoin="round">5</text>
<line x1="400.7" y1="1517.9" x2="415.7" y2="1517.9" stroke="#231f20" stroke-width="2.5" stroke-linecap="butt"/>
<text x="380.07" y="1527.8" font-family='"Liberation Sans", sans-serif' font-size="33" font-weight="normal" textLength="16.57" lengthAdjust="spacingAndGlyphs" stroke="#231f20" stroke-width="1" stroke-linejoin="round">0</text>
<text x="-2.1" y="-0.5" font-family='"Liberation Sans", sans-serif' font-size="32" font-weight="bold" textLength="382.01" lengthAdjust="spacingAndGlyphs" stroke="#231f20" stroke-width="1" stroke-linejoin="round" transform="translate(331,1458.4) rotate(-90)">Blood glucose (mmol/L)</text>
<text x="-1.74" y="-0.8" font-family='"Liberation Sans", sans-serif' font-size="30.8" font-weight="bold" textLength="41.75" lengthAdjust="spacingAndGlyphs" stroke="#231f20" stroke-width="1.6" stroke-linejoin="round" transform="translate(409.7,1632.1) rotate(-45)">B2</text>
<text x="41.58" y="-16.55" font-family='"Liberation Sans", sans-serif' font-size="22.3" font-weight="bold" textLength="54.07" lengthAdjust="spacingAndGlyphs" stroke="#231f20" stroke-width="0.5" stroke-linejoin="round" transform="translate(409.7,1632.1) rotate(-45)">(fl/fl)</text>
<text x="-0.22" y="-0.8" font-family='"Liberation Sans", sans-serif' font-size="30.8" font-weight="bold" textLength="98.25" lengthAdjust="spacingAndGlyphs" stroke="#231f20" stroke-width="1.6" stroke-linejoin="round" transform="translate(481.3,1669.2) rotate(-45)">Ad-B2</text>
<text x="99.01" y="-16.55" font-family='"Liberation Sans", sans-serif' font-size="22.3" font-weight="bold" textLength="49.19" lengthAdjust="spacingAndGlyphs" stroke="#231f20" stroke-width="0.5" stroke-linejoin="round" transform="translate(481.3,1669.2) rotate(-45)">(+/-)</text>
<text x="-0.22" y="-0.8" font-family='"Liberation Sans", sans-serif' font-size="30.8" font-weight="bold" textLength="98.25" lengthAdjust="spacingAndGlyphs" stroke="#231f20" stroke-width="1.6" stroke-linejoin="round" transform="translate(595.5,1665.3) rotate(-45)">Ad-B2</text>
<text x="99.02" y="-16.55" font-family='"Liberation Sans", sans-serif' font-size="22.3" font-weight="bold" textLength="42.17" lengthAdjust="spacingAndGlyphs" stroke="#231f20" stroke-width="0.5" stroke-linejoin="round" transform="translate(595.5,1665.3) rotate(-45)">(-/-)</text>
<text x="1005.93" y="389.9" font-family='"Liberation Serif", serif' font-size="28.57" font-weight="normal" textLength="18.13" lengthAdjust="spacingAndGlyphs">#</text>
<text x="1005.71" y="427.26" font-family='"Liberation Serif", serif' font-size="38.27" font-weight="normal" textLength="18.58" lengthAdjust="spacingAndGlyphs">*</text>
<text x="1582.8" y="289.9" font-family='"Liberation Serif", serif' font-size="28.57" font-weight="normal" textLength="19.2" lengthAdjust="spacingAndGlyphs">#</text>
<text x="1582.86" y="327.26" font-family='"Liberation Serif", serif' font-size="38.27" font-weight="normal" textLength="19.08" lengthAdjust="spacingAndGlyphs">*</text>
<line x1="993.7" y1="1028.65" x2="993.7" y2="1518.55" stroke="#231f20" stroke-width="2.5" stroke-linecap="butt"/>
<line x1="979.3" y1="1518.55" x2="1321.1" y2="1518.55" stroke="#231f20" stroke-width="2.5" stroke-linecap="butt"/>
<line x1="979.3" y1="1029.9" x2="993.7" y2="1029.9" stroke="#231f20" stroke-width="2.5" stroke-linecap="butt"/>
<text x="941.76" y="1039.8" font-family='"Liberation Sans", sans-serif' font-size="33" font-weight="normal" textLength="33.46" lengthAdjust="spacingAndGlyphs" stroke="#231f20" stroke-width="1" stroke-linejoin="round">35</text>
<line x1="979.3" y1="1099.71" x2="993.7" y2="1099.71" stroke="#231f20" stroke-width="2.5" stroke-linecap="butt"/>
<text x="941.77" y="1109.61" font-family='"Liberation Sans", sans-serif' font-size="33" font-weight="normal" textLength="32.96" lengthAdjust="spacingAndGlyphs" stroke="#231f20" stroke-width="1" stroke-linejoin="round">30</text>
<line x1="979.3" y1="1169.51" x2="993.7" y2="1169.51" stroke="#231f20" stroke-width="2.5" stroke-linecap="butt"/>
<text x="941.27" y="1179.41" font-family='"Liberation Sans", sans-serif' font-size="33" font-weight="normal" textLength="33.97" lengthAdjust="spacingAndGlyphs" stroke="#231f20" stroke-width="1" stroke-linejoin="round">25</text>
<line x1="979.3" y1="1239.32" x2="993.7" y2="1239.32" stroke="#231f20" stroke-width="2.5" stroke-linecap="butt"/>
<text x="941.29" y="1249.22" font-family='"Liberation Sans", sans-serif' font-size="33" font-weight="normal" textLength="33.46" lengthAdjust="spacingAndGlyphs" stroke="#231f20" stroke-width="1" stroke-linejoin="round">20</text>
<line x1="979.3" y1="1309.13" x2="993.7" y2="1309.13" stroke="#231f20" stroke-width="2.5" stroke-linecap="butt"/>
<text x="944.27" y="1319.03" font-family='"Liberation Sans", sans-serif' font-size="33" font-weight="normal" textLength="30.86" lengthAdjust="spacingAndGlyphs" stroke="#231f20" stroke-width="1" stroke-linejoin="round">15</text>
<line x1="979.3" y1="1378.94" x2="993.7" y2="1378.94" stroke="#231f20" stroke-width="2.5" stroke-linecap="butt"/>
<text x="944.29" y="1388.84" font-family='"Liberation Sans", sans-serif' font-size="33" font-weight="normal" textLength="30.39" lengthAdjust="spacingAndGlyphs" stroke="#231f20" stroke-width="1" stroke-linejoin="round">10</text>
<line x1="979.3" y1="1448.74" x2="993.7" y2="1448.74" stroke="#231f20" stroke-width="2.5" stroke-linecap="butt"/>
<text x="958.35" y="1458.64" font-family='"Liberation Sans", sans-serif' font-size="33" font-weight="normal" textLength="16.88" lengthAdjust="spacingAndGlyphs" stroke="#231f20" stroke-width="1" stroke-linejoin="round">5</text>
<line x1="979.3" y1="1518.55" x2="993.7" y2="1518.55" stroke="#231f20" stroke-width="2.5" stroke-linecap="butt"/>
<text x="957.26" y="1528.45" font-family='"Liberation Sans", sans-serif' font-size="33" font-weight="normal" textLength="18.46" lengthAdjust="spacingAndGlyphs" stroke="#231f20" stroke-width="1" stroke-linejoin="round">0</text>
<line x1="993.7" y1="1518.55" x2="993.7" y2="1533.4" stroke="#231f20" stroke-width="2.5" stroke-linecap="butt"/>
<text x="985.76" y="1572.1" font-family='"Liberation Sans", sans-serif' font-size="33" font-weight="normal" textLength="16.68" lengthAdjust="spacingAndGlyphs" stroke="#231f20" stroke-width="1" stroke-linejoin="round">0</text>
<line x1="1075.3" y1="1518.55" x2="1075.3" y2="1533.4" stroke="#231f20" stroke-width="2.5" stroke-linecap="butt"/>
<text x="1059.09" y="1572.1" font-family='"Liberation Sans", sans-serif' font-size="33" font-weight="normal" textLength="32.33" lengthAdjust="spacingAndGlyphs" stroke="#231f20" stroke-width="1" stroke-linejoin="round">30</text>
<line x1="1156.9" y1="1518.55" x2="1156.9" y2="1533.4" stroke="#231f20" stroke-width="2.5" stroke-linecap="butt"/>
<text x="1139.59" y="1572.1" font-family='"Liberation Sans", sans-serif' font-size="33" font-weight="normal" textLength="33.46" lengthAdjust="spacingAndGlyphs" stroke="#231f20" stroke-width="1" stroke-linejoin="round">60</text>
<line x1="1238.5" y1="1518.55" x2="1238.5" y2="1533.4" stroke="#231f20" stroke-width="2.5" stroke-linecap="butt"/>
<text x="1222.64" y="1572.1" font-family='"Liberation Sans", sans-serif' font-size="33" font-weight="normal" textLength="32.39" lengthAdjust="spacingAndGlyphs" stroke="#231f20" stroke-width="1" stroke-linejoin="round">90</text>
<line x1="1320.1" y1="1518.55" x2="1320.1" y2="1533.4" stroke="#231f20" stroke-width="2.5" stroke-linecap="butt"/>
<text x="1298.25" y="1572.1" font-family='"Liberation Sans", sans-serif' font-size="33" font-weight="normal" textLength="46.75" lengthAdjust="spacingAndGlyphs" stroke="#231f20" stroke-width="1" stroke-linejoin="round">120</text>
<text x="1066.5" y="1634.9" font-family='"Liberation Sans", sans-serif' font-size="33" font-weight="bold" textLength="182.71" lengthAdjust="spacingAndGlyphs" stroke="#231f20" stroke-width="0.6" stroke-linejoin="round">Time (min)</text>
<text x="-2.1" y="-0.5" font-family='"Liberation Sans", sans-serif' font-size="32" font-weight="bold" textLength="382.01" lengthAdjust="spacingAndGlyphs" stroke="#231f20" stroke-width="1" stroke-linejoin="round" transform="translate(910,1458.4) rotate(-90)">Blood glucose (mmol/L)</text>
<line x1="1021.7" y1="926.7" x2="1075.7" y2="926.7" stroke="#231f20" stroke-width="2.5" stroke-linecap="butt"/>
<rect x="1041.4" y="919.4" width="14.6" height="14.6" fill="#ffffff" stroke="#231f20" stroke-width="2.5"/>
<line x1="1021.7" y1="983.1" x2="1075.7" y2="983.1" stroke="#231f20" stroke-width="2.5" stroke-linecap="butt"/>
<rect x="1041.4" y="975.8" width="14.6" height="14.6" fill="#d8d9da" stroke="#231f20" stroke-width="2.5"/>
<line x1="1021.7" y1="1039.1" x2="1075.7" y2="1039.1" stroke="#231f20" stroke-width="2.5" stroke-linecap="butt"/>
<rect x="1041.4" y="1031.8" width="14.6" height="14.6" fill="#231f20" stroke="#231f20" stroke-width="2.5"/>
<text x="1103.76" y="943.3" font-family='"Liberation Sans", sans-serif' font-size="32" font-weight="bold" textLength="43.69" lengthAdjust="spacingAndGlyphs" stroke="#231f20" stroke-width="0.8" stroke-linejoin="round">B2</text>
<text x="1148.6" y="925.6" font-family='"Liberation Sans", sans-serif' font-size="21.5" font-weight="bold" textLength="55.53" lengthAdjust="spacingAndGlyphs" stroke="#231f20" stroke-width="0.6" stroke-linejoin="round">(fl/fl)</text>
<text x="1103.36" y="1000" font-family='"Liberation Sans", sans-serif' font-size="32" font-weight="bold" textLength="102" lengthAdjust="spacingAndGlyphs" stroke="#231f20" stroke-width="0.8" stroke-linejoin="round">Ad-B2</text>
<text x="1205.15" y="982.3" font-family='"Liberation Sans", sans-serif' font-size="21.5" font-weight="bold" textLength="49.51" lengthAdjust="spacingAndGlyphs" stroke="#231f20" stroke-width="0.6" stroke-linejoin="round">(+/-)</text>
<text x="1103.36" y="1056" font-family='"Liberation Sans", sans-serif' font-size="32" font-weight="bold" textLength="102" lengthAdjust="spacingAndGlyphs" stroke="#231f20" stroke-width="0.8" stroke-linejoin="round">Ad-B2</text>
<text x="1205.17" y="1038.3" font-family='"Liberation Sans", sans-serif' font-size="21.5" font-weight="bold" textLength="42.17" lengthAdjust="spacingAndGlyphs" stroke="#231f20" stroke-width="0.6" stroke-linejoin="round">(-/-)</text>
<line x1="1075.7" y1="1292.7" x2="1075.7" y2="1271.2" stroke="#231f20" stroke-width="2.4" stroke-linecap="butt"/>
<line x1="1067.3" y1="1271.2" x2="1084.1" y2="1271.2" stroke="#231f20" stroke-width="2.4" stroke-linecap="butt"/>
<line x1="1075.7" y1="1292.7" x2="1075.7" y2="1314.2" stroke="#231f20" stroke-width="2.4" stroke-linecap="butt"/>
<line x1="1067.3" y1="1314.2" x2="1084.1" y2="1314.2" stroke="#231f20" stroke-width="2.4" stroke-linecap="butt"/>
<line x1="1157.3" y1="1366.9" x2="1157.3" y2="1348.5" stroke="#231f20" stroke-width="2.4" stroke-linecap="butt"/>
<line x1="1148.9" y1="1348.5" x2="1165.7" y2="1348.5" stroke="#231f20" stroke-width="2.4" stroke-linecap="butt"/>
<line x1="1157.3" y1="1366.9" x2="1157.3" y2="1385.3" stroke="#231f20" stroke-width="2.4" stroke-linecap="butt"/>
<line x1="1148.9" y1="1385.3" x2="1165.7" y2="1385.3" stroke="#231f20" stroke-width="2.4" stroke-linecap="butt"/>
<line x1="1034.6" y1="1221.4" x2="1034.6" y2="1198.5" stroke="#231f20" stroke-width="2.4" stroke-linecap="butt"/>
<line x1="1026.2" y1="1198.5" x2="1043" y2="1198.5" stroke="#231f20" stroke-width="2.4" stroke-linecap="butt"/>
<line x1="1034.6" y1="1221.4" x2="1034.6" y2="1244.3" stroke="#231f20" stroke-width="2.4" stroke-linecap="butt"/>
<line x1="1026.2" y1="1244.3" x2="1043" y2="1244.3" stroke="#231f20" stroke-width="2.4" stroke-linecap="butt"/>
<polyline points="993.8,1396.5 1034.6,1221.4 1075.7,1292.7 1157.3,1366.9 1320.7,1390.2" fill="none" stroke="#231f20" stroke-width="2.4" stroke-linejoin="round"/>
<rect x="986.5" y="1389.2" width="14.6" height="14.6" fill="#ffffff" stroke="#231f20" stroke-width="2.5"/>
<rect x="1027.3" y="1214.1" width="14.6" height="14.6" fill="#ffffff" stroke="#231f20" stroke-width="2.5"/>
<rect x="1068.4" y="1285.4" width="14.6" height="14.6" fill="#ffffff" stroke="#231f20" stroke-width="2.5"/>
<rect x="1150" y="1359.6" width="14.6" height="14.6" fill="#ffffff" stroke="#231f20" stroke-width="2.5"/>
<rect x="1313.4" y="1382.9" width="14.6" height="14.6" fill="#ffffff" stroke="#231f20" stroke-width="2.5"/>
<line x1="1075.7" y1="1316.8" x2="1075.7" y2="1297.8" stroke="#231f20" stroke-width="2.4" stroke-linecap="butt"/>
<line x1="1067.3" y1="1297.8" x2="1084.1" y2="1297.8" stroke="#231f20" stroke-width="2.4" stroke-linecap="butt"/>
<line x1="1075.7" y1="1316.8" x2="1075.7" y2="1335.8" stroke="#231f20" stroke-width="2.4" stroke-linecap="butt"/>
<line x1="1067.3" y1="1335.8" x2="1084.1" y2="1335.8" stroke="#231f20" stroke-width="2.4" stroke-linecap="butt"/>
<line x1="1157.3" y1="1360.7" x2="1157.3" y2="1352.5" stroke="#231f20" stroke-width="2.4" stroke-linecap="butt"/>
<line x1="1148.9" y1="1352.5" x2="1165.7" y2="1352.5" stroke="#231f20" stroke-width="2.4" stroke-linecap="butt"/>
<line x1="1157.3" y1="1360.7" x2="1157.3" y2="1368.9" stroke="#231f20" stroke-width="2.4" stroke-linecap="butt"/>
<line x1="1148.9" y1="1368.9" x2="1165.7" y2="1368.9" stroke="#231f20" stroke-width="2.4" stroke-linecap="butt"/>
<line x1="1320.7" y1="1398.7" x2="1320.7" y2="1383.7" stroke="#231f20" stroke-width="2.4" stroke-linecap="butt"/>
<line x1="1312.3" y1="1383.7" x2="1329.1" y2="1383.7" stroke="#231f20" stroke-width="2.4" stroke-linecap="butt"/>
<line x1="1320.7" y1="1398.7" x2="1320.7" y2="1413.7" stroke="#231f20" stroke-width="2.4" stroke-linecap="butt"/>
<line x1="1312.3" y1="1413.7" x2="1329.1" y2="1413.7" stroke="#231f20" stroke-width="2.4" stroke-linecap="butt"/>
<line x1="1034.6" y1="1248.9" x2="1034.6" y2="1234.3" stroke="#231f20" stroke-width="2.4" stroke-linecap="butt"/>
<line x1="1026.2" y1="1234.3" x2="1043" y2="1234.3" stroke="#231f20" stroke-width="2.4" stroke-linecap="butt"/>
<line x1="1034.6" y1="1248.9" x2="1034.6" y2="1263.5" stroke="#231f20" stroke-width="2.4" stroke-linecap="butt"/>
<line x1="1026.2" y1="1263.5" x2="1043" y2="1263.5" stroke="#231f20" stroke-width="2.4" stroke-linecap="butt"/>
<polyline points="993.8,1413 1034.6,1248.9 1075.7,1316.8 1157.3,1360.7 1320.7,1398.7" fill="none" stroke="#231f20" stroke-width="2.4" stroke-linejoin="round"/>
<rect x="986.5" y="1405.7" width="14.6" height="14.6" fill="#d8d9da" stroke="#231f20" stroke-width="2.5"/>
<rect x="1027.3" y="1241.6" width="14.6" height="14.6" fill="#d8d9da" stroke="#231f20" stroke-width="2.5"/>
<rect x="1068.4" y="1309.5" width="14.6" height="14.6" fill="#d8d9da" stroke="#231f20" stroke-width="2.5"/>
<rect x="1150" y="1353.4" width="14.6" height="14.6" fill="#d8d9da" stroke="#231f20" stroke-width="2.5"/>
<rect x="1313.4" y="1391.4" width="14.6" height="14.6" fill="#d8d9da" stroke="#231f20" stroke-width="2.5"/>
<line x1="1034.6" y1="1220.6" x2="1034.6" y2="1186" stroke="#231f20" stroke-width="2.4" stroke-linecap="butt"/>
<line x1="1026.2" y1="1186" x2="1043" y2="1186" stroke="#231f20" stroke-width="2.4" stroke-linecap="butt"/>
<line x1="1034.6" y1="1220.6" x2="1034.6" y2="1255.2" stroke="#231f20" stroke-width="2.4" stroke-linecap="butt"/>
<line x1="1026.2" y1="1255.2" x2="1043" y2="1255.2" stroke="#231f20" stroke-width="2.4" stroke-linecap="butt"/>
<line x1="1075.7" y1="1252.2" x2="1075.7" y2="1215.2" stroke="#231f20" stroke-width="2.4" stroke-linecap="butt"/>
<line x1="1067.3" y1="1215.2" x2="1084.1" y2="1215.2" stroke="#231f20" stroke-width="2.4" stroke-linecap="butt"/>
<line x1="1075.7" y1="1252.2" x2="1075.7" y2="1289.2" stroke="#231f20" stroke-width="2.4" stroke-linecap="butt"/>
<line x1="1067.3" y1="1289.2" x2="1084.1" y2="1289.2" stroke="#231f20" stroke-width="2.4" stroke-linecap="butt"/>
<line x1="1157.3" y1="1324.4" x2="1157.3" y2="1303.9" stroke="#231f20" stroke-width="2.4" stroke-linecap="butt"/>
<line x1="1148.9" y1="1303.9" x2="1165.7" y2="1303.9" stroke="#231f20" stroke-width="2.4" stroke-linecap="butt"/>
<line x1="1157.3" y1="1324.4" x2="1157.3" y2="1344.9" stroke="#231f20" stroke-width="2.4" stroke-linecap="butt"/>
<line x1="1148.9" y1="1344.9" x2="1165.7" y2="1344.9" stroke="#231f20" stroke-width="2.4" stroke-linecap="butt"/>
<line x1="1320.7" y1="1367.6" x2="1320.7" y2="1354.8" stroke="#231f20" stroke-width="2.4" stroke-linecap="butt"/>
<line x1="1312.3" y1="1354.8" x2="1329.1" y2="1354.8" stroke="#231f20" stroke-width="2.4" stroke-linecap="butt"/>
<line x1="1320.7" y1="1367.6" x2="1320.7" y2="1380.4" stroke="#231f20" stroke-width="2.4" stroke-linecap="butt"/>
<line x1="1312.3" y1="1380.4" x2="1329.1" y2="1380.4" stroke="#231f20" stroke-width="2.4" stroke-linecap="butt"/>
<polyline points="993.8,1389.2 1034.6,1220.6 1075.7,1252.2 1157.3,1324.4 1320.7,1367.6" fill="none" stroke="#231f20" stroke-width="2.4" stroke-linejoin="round"/>
<rect x="986.5" y="1381.9" width="14.6" height="14.6" fill="#231f20" stroke="#231f20" stroke-width="2.5"/>
<rect x="1027.3" y="1213.3" width="14.6" height="14.6" fill="#231f20" stroke="#231f20" stroke-width="2.5"/>
<rect x="1068.4" y="1244.9" width="14.6" height="14.6" fill="#231f20" stroke="#231f20" stroke-width="2.5"/>
<rect x="1150" y="1317.1" width="14.6" height="14.6" fill="#231f20" stroke="#231f20" stroke-width="2.5"/>
<rect x="1313.4" y="1360.3" width="14.6" height="14.6" fill="#231f20" stroke="#231f20" stroke-width="2.5"/>
</svg>
</body>
</html>
